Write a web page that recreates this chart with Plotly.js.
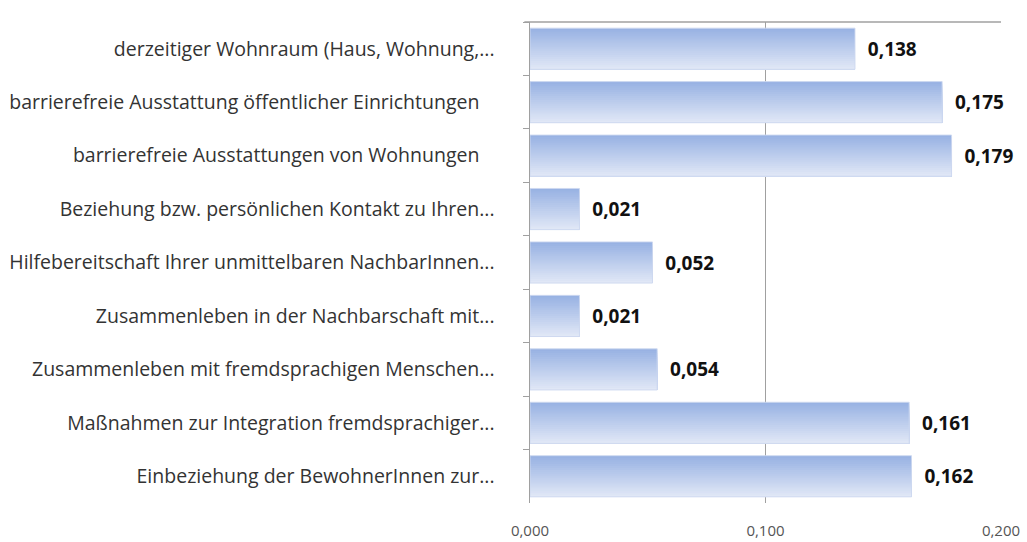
<!DOCTYPE html>
<html><head><meta charset="utf-8">
<script src="https://cdn.plot.ly/plotly-3.0.1.min.js"></script>
<style>html,body{margin:0;padding:0;background:#fff}#chart{width:1027px;height:542px}</style>
</head><body><div id="chart"></div>
<script>
const categories = [
  "derzeitiger Wohnraum (Haus, Wohnung,...",
  "barrierefreie Ausstattung öffentlicher Einrichtungen   ",
  "barrierefreie Ausstattungen von Wohnungen   ",
  "Beziehung bzw. persönlichen Kontakt zu Ihren...",
  "Hilfebereitschaft Ihrer unmittelbaren NachbarInnen...",
  "Zusammenleben in der Nachbarschaft mit...",
  "Zusammenleben mit fremdsprachigen Menschen...",
  "Maßnahmen zur Integration fremdsprachiger...",
  "Einbeziehung der BewohnerInnen zur..."
];
const values = [0.138, 0.175, 0.179, 0.021, 0.052, 0.021, 0.054, 0.161, 0.162];
const xTicks = [0, 0.1, 0.2];
const xTickLabels = ["0,000", "0,100", "0,200"];

// gradient strips (top dark -> bottom light); each strip covers to the bar bottom
const topC = [152, 178, 227], botC = [224, 231, 246];
const nStrips = 20, barW = 0.77;
const traces = [];
for (let i = 0; i < nStrips; i++) {
  const t = i / (nStrips - 1);
  const c = topC.map((v, k) => Math.round(v + (botC[k] - v) * t));
  const off = -barW / 2 + i * barW / nStrips;
  traces.push({
    type: 'bar', orientation: 'h', x: values, y: categories,
    width: barW / 2 - off, offset: off,
    marker: {color: `rgb(${c[0]},${c[1]},${c[2]})`, line: {width: 0}},
    hoverinfo: 'skip', showlegend: false
  });
}
traces.push({
  type: 'bar', orientation: 'h', x: values, y: categories,
  width: barW, offset: -barW / 2,
  marker: {color: 'rgba(0,0,0,0)', line: {color: 'rgba(205,216,240,0.9)', width: 1}},
  text: values.map(v => '  ' + v.toFixed(3).replace('.', ',')),
  textposition: 'outside', cliponaxis: false,
  textfont: {family: '"Open Sans", sans-serif', size: 19, color: '#111', weight: 'bold'},
  showlegend: false
});

const layout = {
  width: 1027, height: 542,
  margin: {l: 530, r: 26, t: 22, b: 39},
  paper_bgcolor: '#fff', plot_bgcolor: '#fff',
  barmode: 'overlay',
  font: {family: '"Open Sans", sans-serif', color: '#333'},
  xaxis: {
    range: [0, 0.2], tickvals: xTicks, ticktext: xTickLabels,
    showgrid: true, gridcolor: '#a0a0a0', gridwidth: 1.5,
    zeroline: false, showline: false, ticks: '',
    ticklabelstandoff: 17,
    tickfont: {size: 15, color: '#555'}, fixedrange: true
  },
  yaxis: {
    type: 'category', autorange: 'reversed',
    showline: true, linecolor: '#a0a0a0', linewidth: 1.5,
    ticks: 'outside', tickson: 'boundaries', ticklen: 6, tickcolor: '#a0a0a0',
    ticklabelstandoff: 30,
    tickfont: {size: 19.5, color: '#333'}, showgrid: false, fixedrange: true
  },
  shapes: [{type: 'line', xref: 'paper', yref: 'paper', x0: -0.012, x1: 1, y0: 1, y1: 1,
            line: {color: '#a0a0a0', width: 1.5}, layer: 'below'}]
};
Plotly.newPlot('chart', traces, layout, {displayModeBar: false, staticPlot: true});
</script></body></html>
